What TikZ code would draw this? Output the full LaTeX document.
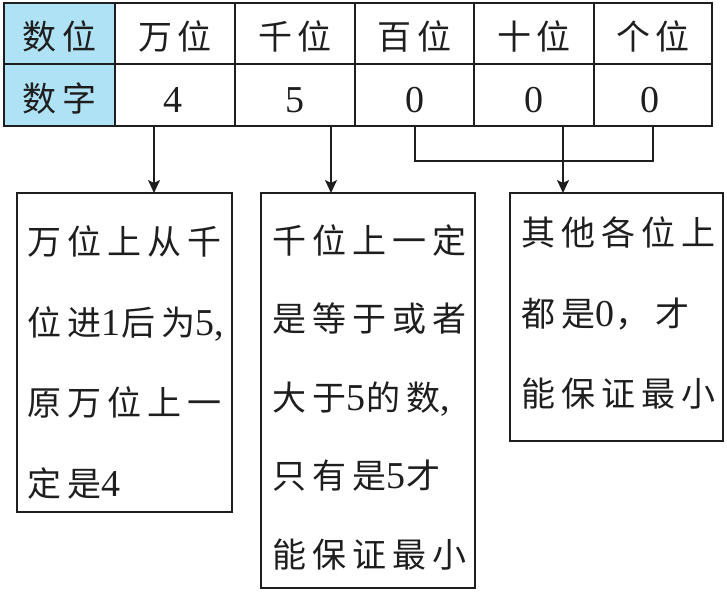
\documentclass[tikz,border=0pt]{standalone}
\usepackage{fontspec}
\setmainfont{Liberation Serif}
\newfontfamily\cj{Noto Sans CJK SC}
\usetikzlibrary{arrows.meta}
\definecolor{hdrblue}{RGB}{176,226,245}
\definecolor{inkc}{RGB}{30,30,30}
\newif\ifprevcjk
\let\spEnd\relax
\def\digfont{\fontsize{38bp}{40bp}\selectfont\rmfamily}
\def\sptext#1{\spFirst#1\spEnd}
\def\spFirst#1{\spChar#1\spA}
\def\spA#1{\ifx#1\spEnd\else\spKern#1\spChar#1\expandafter\spA\fi}
\def\spChar#1{\ifnum`#1>255 {\cj #1}\global\prevcjktrue\else{\digfont #1}\global\prevcjkfalse\fi}
\def\spKern#1{\ifnum`#1>255 \ifprevcjk\kern6bp\else\kern1bp\fi\else\kern0bp\fi}
\begin{document}
\begin{tikzpicture}[x=1bp,y=-1bp,
  cell/.style={draw=inkc, line width=1.5bp, minimum width=#1, inner sep=0pt, outer sep=0pt},
  toprow/.style={minimum height=61bp},
  botrow/.style={minimum height=62bp},
  txt/.style={inner sep=0pt, text=inkc, font=\fontsize{34bp}{40bp}\selectfont},
  dig/.style={inner sep=0pt, text=inkc, font=\digfont},
  cbox/.style={draw=inkc, line width=1.6bp, inner sep=0pt, outer sep=0pt},
  arr/.style={draw=inkc, line width=2bp, -{Stealth[length=13bp,width=12bp,inset=3bp]}},
  link/.style={draw=inkc, line width=2bp}]
\useasboundingbox (0,0) rectangle (727,597);
% table cells
\node[cell=111bp, toprow, fill=hdrblue] (h0) at (59.5,33.5) {};
\node[cell=120bp, toprow] (h1) at (175,33.5) {};
\node[cell=120bp, toprow] (h2) at (295,33.5) {};
\node[cell=119bp, toprow] (h3) at (414.5,33.5) {};
\node[cell=120bp, toprow] (h4) at (534,33.5) {};
\node[cell=118bp, toprow] (h5) at (653,33.5) {};
\node[cell=111bp, botrow, fill=hdrblue] (d0) at (59.5,95) {};
\node[cell=120bp, botrow] (d1) at (175,95) {};
\node[cell=120bp, botrow] (d2) at (295,95) {};
\node[cell=119bp, botrow] (d3) at (414.5,95) {};
\node[cell=120bp, botrow] (d4) at (534,95) {};
\node[cell=118bp, botrow] (d5) at (653,95) {};
\draw[inkc, line width=2bp] (h0.north west) rectangle (d5.south east);
% table texts
\node[txt, anchor=base] (th0) at (59.5,50) {\sptext{数位}};
\node[txt, anchor=base] (th1) at (175,50) {\sptext{万位}};
\node[txt, anchor=base] (th2) at (295,50) {\sptext{千位}};
\node[txt, anchor=base] (th3) at (414.5,50) {\sptext{百位}};
\node[txt, anchor=base] (th4) at (534,50) {\sptext{十位}};
\node[txt, anchor=base] (th5) at (653,50) {\sptext{个位}};
\node[txt, anchor=base] (td0) at (59.5,112) {\sptext{数字}};
\node[dig, anchor=base] (td1) at (173,113) {4};
\node[dig, anchor=base] (td2) at (295,113) {5};
\node[dig, anchor=base] (td3) at (414.5,113) {0};
\node[dig, anchor=base] (td4) at (534,113) {0};
\node[dig, anchor=base] (td5) at (650,113) {0};
% explanation boxes
\node[cbox, minimum width=215bp, minimum height=319bp] (box1) at (124.5,352.5) {};
\node[cbox, minimum width=214bp, minimum height=395bp] (box2) at (368,390.5) {};
\node[cbox, minimum width=213bp, minimum height=248bp] (box3) at (616.5,317) {};
% box 1 text
\node[txt, anchor=base west] (b1a) at (27,254) {\sptext{万位上从千}};
\node[txt, anchor=base west] (b1b) at (27,335) {\sptext{位进1后为5,}};
\node[txt, anchor=base west] (b1c) at (27,415) {\sptext{原万位上一}};
\node[txt, anchor=base west] (b1d) at (27,496) {\sptext{定是4}};
% box 2 text
\node[txt, anchor=base west] (b2a) at (272,253) {\sptext{千位上一定}};
\node[txt, anchor=base west] (b2b) at (272,331.5) {\sptext{是等于或者}};
\node[txt, anchor=base west] (b2c) at (272,410) {\sptext{大于5的数,}};
\node[txt, anchor=base west] (b2d) at (272,488.5) {\sptext{只有是5才}};
\node[txt, anchor=base west] (b2e) at (272,567) {\sptext{能保证最小}};
% box 3 text
\node[txt, anchor=base west] (b3a) at (521,245) {\sptext{其他各位上}};
\node[txt, anchor=base west] (b3b) at (521,326) {\sptext{都是0，才}};
\node[txt, anchor=base west] (b3c) at (521,406) {\sptext{能保证最小}};
% connectors
\coordinate (a1) at (154,0);
\coordinate (a2) at (331,0);
\coordinate (a3) at (563,0);
\draw[arr] (a1 |- d1.south) -- (a1 |- box1.north);
\draw[arr] (a2 |- d2.south) -- (a2 |- box2.north);
\draw[link] (d3.south) -- ++(0,35) -| (d5.south);
\draw[arr] (a3 |- d4.south) -- (a3 |- box3.north);
\end{tikzpicture}
\end{document}
